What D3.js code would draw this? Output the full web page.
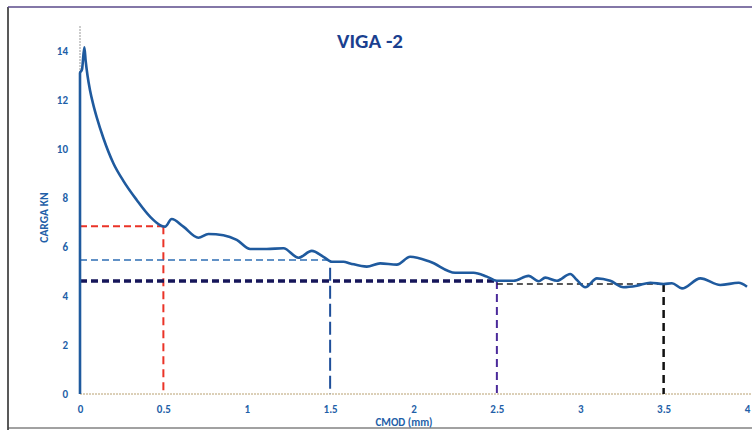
<!DOCTYPE html>
<html>
<head>
<meta charset="utf-8">
<script src="https://cdn.jsdelivr.net/npm/d3@7"></script>
<style>
  body { margin: 0; background: #fff; }
  svg { display: block; font-family: Carlito, Calibri, "Open Sans", sans-serif; }
</style>
</head>
<body>
<svg id="chart" width="752" height="430"></svg>
<script>
// CMOD (mm) vs carga (kN)
const cmod = [0, 0, 0.012, 0.026, 0.034, 0.045, 0.06, 0.08, 0.10, 0.14, 0.20, 0.26, 0.34, 0.42, 0.49, 0.51, 0.55,
  0.62, 0.71, 0.77, 0.86, 0.94, 1.02, 1.12, 1.22, 1.31, 1.39, 1.46, 1.51, 1.58, 1.62, 1.72, 1.80,
  1.90, 1.98, 2.10, 2.25, 2.36, 2.44, 2.50, 2.60, 2.69, 2.75, 2.79, 2.86, 2.94, 2.98, 3.03, 3.10,
  3.18, 3.26, 3.34, 3.42, 3.50, 3.55, 3.61, 3.72, 3.84, 3.95, 4.0];
const carga = [0, 13.1, 13.25, 14.15, 13.6, 13.0, 12.4, 11.8, 11.3, 10.45, 9.42, 8.7, 7.92, 7.24, 6.86, 6.83, 7.14,
  6.83, 6.38, 6.53, 6.48, 6.29, 5.92, 5.92, 5.95, 5.56, 5.84, 5.6, 5.4, 5.4, 5.33, 5.2, 5.33,
  5.28, 5.6, 5.4, 4.95, 4.95, 4.79, 4.62, 4.62, 4.82, 4.6, 4.75, 4.62, 4.9, 4.65, 4.36, 4.72,
  4.62, 4.36, 4.42, 4.54, 4.49, 4.52, 4.31, 4.72, 4.45, 4.54, 4.38];

// reference lines: x where each one drops, its level, where it starts, top of the drop
const guideX = [0.5, 1.5, 2.5, 3.5];
const guideLevel = [6.85, 5.47, 4.61, 4.49];
const guideFrom = [0, 0, 0, 2.5];
const guideTop = [6.85, 5.15, 4.61, 4.49];

const xTicks = [0, 0.5, 1, 1.5, 2, 2.5, 3, 3.5, 4];
const yTicks = [0, 2, 4, 6, 8, 10, 12, 14];

const svg = d3.select('#chart');
const W = 752;
const plotTop = 25;

const x = d3.scaleLinear().domain([0, 4]).range([80, 747]);
const y = d3.scaleLinear().domain([0, 14]).range([394, 51]);

// scan frame
svg.append('line').attr('x1', 8).attr('x2', 8).attr('y1', 7).attr('y2', 430)
  .attr('stroke', '#222').attr('stroke-width', 1.5);
svg.append('line').attr('x1', 8).attr('x2', W).attr('y1', 7).attr('y2', 7)
  .attr('stroke', '#5a4a8a').attr('stroke-width', 1.5);
svg.append('line').attr('x1', 8).attr('x2', W).attr('y1', 428).attr('y2', 428)
  .attr('stroke', '#444').attr('stroke-width', 1);

// axes (thin dotted like the print)
svg.append('line').attr('x1', x(0)).attr('x2', W).attr('y1', y(0)).attr('y2', y(0))
  .attr('stroke', '#b8a070').attr('stroke-width', 1).attr('stroke-dasharray', '2,1');
svg.append('line').attr('x1', x(0)).attr('x2', x(0)).attr('y1', y(0)).attr('y2', plotTop)
  .attr('stroke', '#999').attr('stroke-width', 1).attr('stroke-dasharray', '2,1');

const yAxis = svg.append('g').attr('transform', `translate(${x(0)},0)`)
  .call(d3.axisLeft(y).tickValues(yTicks).tickSize(0).tickPadding(12));
const xAxis = svg.append('g').attr('transform', `translate(0,${y(0)})`)
  .call(d3.axisBottom(x).tickValues(xTicks).tickSize(0).tickPadding(11)
    .tickFormat(d => String(d)));
[xAxis, yAxis].forEach(g => {
  g.select('.domain').remove();
  g.selectAll('text').attr('fill', '#1f5fa8').attr('font-size', 11).attr('font-weight', 'bold')
    .style('font-family', 'Carlito, Calibri, "Open Sans", sans-serif');
});

// guide lines
const hStyles = [
  { c: '#ea3327', w: 2, d: '7,4' },
  { c: '#2e6db4', w: 1.6, d: '7,4' },
  { c: '#16165a', w: 3.5, d: '7,4' },
  { c: '#222', w: 1.3, d: '6,4' }
];
const vStyles = [
  { c: '#ea3327', w: 2, d: '8,5' },
  { c: '#1f4f9a', w: 2, d: '13,5' },
  { c: '#4b2a9a', w: 2, d: '8,5' },
  { c: '#111', w: 2.5, d: '8,5' }
];
guideX.forEach((gx, i) => {
  svg.append('line')
    .attr('x1', x(guideFrom[i])).attr('x2', x(gx))
    .attr('y1', y(guideLevel[i])).attr('y2', y(guideLevel[i]))
    .attr('stroke', hStyles[i].c).attr('stroke-width', hStyles[i].w)
    .attr('stroke-dasharray', hStyles[i].d);
  svg.append('line')
    .attr('x1', x(gx)).attr('x2', x(gx))
    .attr('y1', y(guideTop[i])).attr('y2', y(0))
    .attr('stroke', vStyles[i].c).attr('stroke-width', vStyles[i].w)
    .attr('stroke-dasharray', vStyles[i].d);
});

// curve
const pts = cmod.map((c, i) => [c, carga[i]]);
svg.append('path')
  .datum(pts)
  .attr('fill', 'none')
  .attr('stroke', '#1f5a9e')
  .attr('stroke-width', 2.6)
  .attr('stroke-linejoin', 'round')
  .attr('d', d3.line().x(d => x(d[0])).y(d => y(d[1])).curve(d3.curveMonotoneX));

// texts
svg.append('text').attr('x', 370).attr('y', 48).attr('text-anchor', 'middle')
  .attr('fill', '#1a3f8f').attr('font-size', 21).attr('font-weight', 'bold')
  .text('VIGA -2');
svg.append('text').attr('transform', `translate(48,${y(7.2)}) rotate(-90)`)
  .attr('text-anchor', 'middle').attr('fill', '#1f5fa8')
  .attr('font-size', 11.5).attr('font-weight', 'bold').text('CARGA KN');
svg.append('text').attr('x', 404).attr('y', 426).attr('text-anchor', 'middle')
  .attr('fill', '#1f5fa8').attr('font-size', 11).attr('font-weight', 'bold')
  .text('CMOD (mm)');
</script>
</body>
</html>
